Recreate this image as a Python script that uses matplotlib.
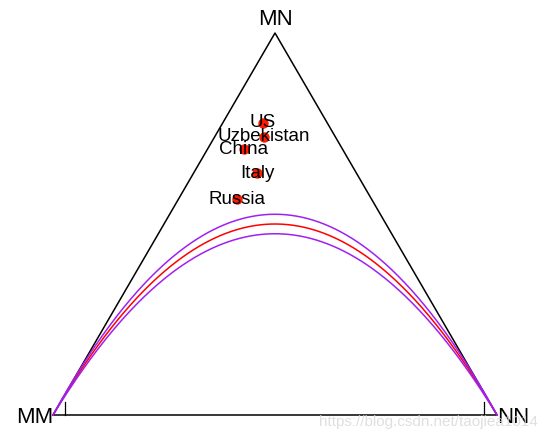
import numpy as np
import matplotlib
matplotlib.use("Agg")
import matplotlib.pyplot as plt

plt.rcParams['font.family'] = ['Liberation Sans', 'DejaVu Sans']

# 基因型频率 (MM, MN, NN)
countries = ['US', 'Uzbekistan', 'China', 'Italy', 'Russia']
f_mm = [0.145, 0.161, 0.222, 0.223, 0.303]
f_mn = [0.765, 0.728, 0.696, 0.633, 0.565]
f_nn = [0.090, 0.111, 0.082, 0.144, 0.132]
vertex_labels = ['MM', 'MN', 'NN']

# HWE 接受域参数
n_sample = 1476
chi_crit = 3.841

H = np.sqrt(3) / 2


def to_xy(mm, mn, nn):
    '''
    三元坐标 -> 平面坐标
    '''
    mm, mn, nn = np.asarray(mm), np.asarray(mn), np.asarray(nn)
    s = mm + mn + nn
    x = (nn + mn / 2) / s
    y = mn / s * H
    return x, y


fig = plt.figure(figsize=(5.58, 4.4), dpi=100)
ax = fig.add_axes([0, 0, 1, 1])
ax.set_xlim(-53 / 444, 1 + 61 / 444)
ax.set_ylim(-25 / 441, H + 33 / 441)
ax.axis('off')

# 三角形
ax.plot([0, 1, 0.5, 0], [0, 0, H, 0], color='black', lw=1.1)
# 刻度
for tx in [12 / 444, 431 / 444]:
    ax.plot([tx, tx], [0, 0.03], color='black', lw=0.9)

# HWE 曲线及接受域
p = np.linspace(0, 1, 400)
het = 2 * p * (1 - p)
r = np.sqrt(chi_crit / n_sample)
ax.plot(p, het * H, color='#FF0000', lw=1.1)
ax.plot(p, het * (1 + r) * H, color='#A020F0', lw=1.1)
ax.plot(p, het * (1 - r) * H, color='#A020F0', lw=1.1)

# 样本点
px, py = to_xy(f_mm, f_mn, f_nn)
ax.plot(px, py, 'o', color='#FF1A00', ms=7.5, mec='none')
for name, x, y in zip(countries, px, py):
    ax.text(x, y, name, fontsize=13.5, ha='center', va='center')

# 顶点标签
ax.text(0, -0.005, vertex_labels[0], fontsize=16, ha='right', va='center')
ax.text(0.5, H + 0.03, vertex_labels[1], fontsize=16, ha='center', va='center')
ax.text(1, -0.005, vertex_labels[2], fontsize=16, ha='left', va='center')

ax.text(0.6, -0.017, 'https://blog.csdn.net/taojiea1014', fontsize=11,
        color='#d8d8d8', alpha=0.8, ha='left', va='center')

fig.savefig('out.png', dpi=100)
